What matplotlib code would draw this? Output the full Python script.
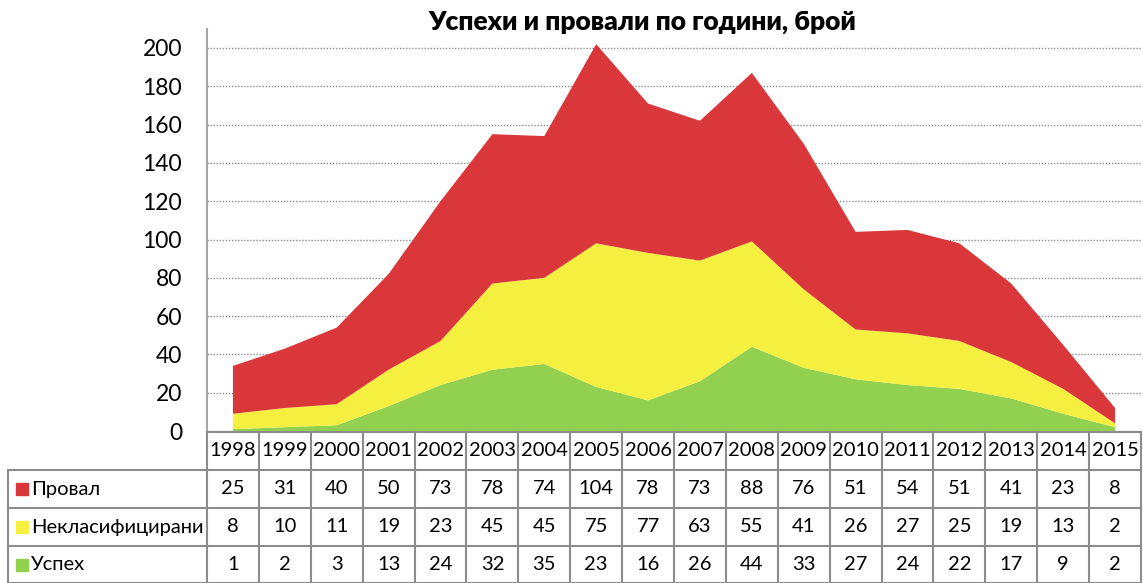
import matplotlib.pyplot as plt
import numpy as np

years = [str(y) for y in range(1998, 2016)]
series_names = ['Провал', 'Некласифицирани', 'Успех']
fail = [25, 31, 40, 50, 73, 78, 74, 104, 78, 73, 88, 76, 51, 54, 51, 41, 23, 8]
unclassified = [8, 10, 11, 19, 23, 45, 45, 75, 77, 63, 55, 41, 26, 27, 25, 19, 13, 2]
success = [1, 2, 3, 13, 24, 32, 35, 23, 16, 26, 44, 33, 27, 24, 22, 17, 9, 2]
colors = ['#d9373a', '#f5ef3f', '#92d050']

plt.rcParams['font.family'] = ['Lato', 'DejaVu Sans']

W, H = 1143, 583
fig = plt.figure(figsize=(W / 100, H / 100), dpi=100)

# chart area in pixel coords
left, right = 207, 1141
y0_px, y200_px = 431, 48
ymax = 210
top_px = y0_px - (y0_px - y200_px) * ymax / 200
ax = fig.add_axes([left / W, 1 - y0_px / H, (right - left) / W, (y0_px - top_px) / H])

x = np.arange(len(years))
ax.stackplot(x, success, unclassified, fail, colors=colors[::-1], linewidth=0)
ax.set_xlim(-0.5, len(years) - 0.5)
ax.set_ylim(0, ymax)
ax.set_yticks(range(0, 201, 20))
ax.tick_params(axis='y', length=0, labelsize=16.5, pad=18)
ax.set_xticks([])
for s in ['top', 'right', 'bottom']:
    ax.spines[s].set_visible(False)
ax.spines['left'].set_color('#a6a6a6')
ax.spines['left'].set_linewidth(1.5)
ax.grid(axis='y', linestyle=(0, (1, 1.2)), color='#8c8c8c', linewidth=1)
ax.set_axisbelow(True)

fig.text(642 / W, 1 - 22 / H, 'Успехи и провали по години, брой',
         ha='center', va='center', fontsize=19, fontweight='heavy')

# data table below the chart
tab = fig.add_axes([0, 0, 1, 1])
tab.set_xlim(0, W)
tab.set_ylim(H, 0)
tab.axis('off')
lc = '#8c8c8c'
lw = 1.5
row_edges = [432, 470, 508, 546, 583]
colw = (right - left) / len(years)
label_left = 8

# horizontal lines
tab.plot([left, right], [row_edges[0]] * 2, color=lc, lw=lw)
for ye in row_edges[1:]:
    tab.plot([label_left, right], [ye, ye], color=lc, lw=lw)
# vertical lines
tab.plot([label_left, label_left], [row_edges[1], H], color=lc, lw=lw)
for i in range(len(years) + 1):
    xe = left + i * colw
    tab.plot([xe, xe], [row_edges[0], H], color=lc, lw=lw)

fs = 14.5
for i, yr in enumerate(years):
    xc = left + (i + 0.5) * colw
    tab.text(xc, (row_edges[0] + row_edges[1]) / 2, yr, ha='center', va='center', fontsize=fs)

rows = [fail, unclassified, success]
for r, (name, vals, col) in enumerate(zip(series_names, rows, colors)):
    yc = (row_edges[r + 1] + row_edges[r + 2]) / 2
    tab.add_patch(plt.Rectangle((16, yc - 6), 12, 12, color=col))
    tab.text(31, yc, name, ha='left', va='center', fontsize=fs)
    for i, v in enumerate(vals):
        xc = left + (i + 0.5) * colw
        tab.text(xc, yc, str(v), ha='center', va='center', fontsize=fs)

fig.savefig('out.png', dpi=100)
